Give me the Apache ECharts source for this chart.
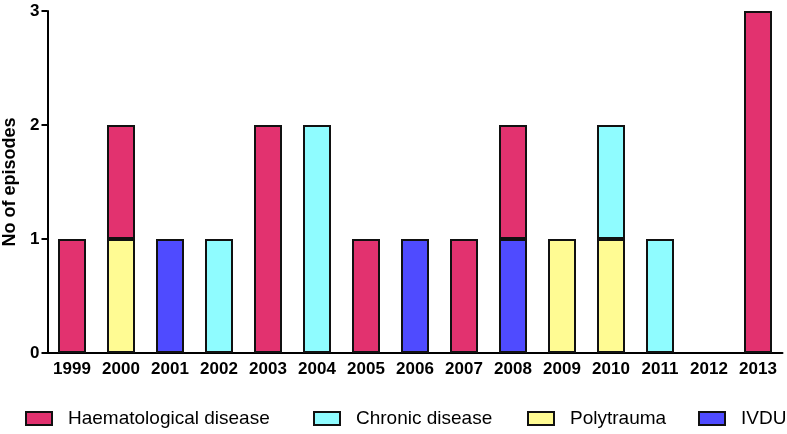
<!DOCTYPE html>
<html>
<head>
<meta charset="utf-8">
<script src="https://cdn.jsdelivr.net/npm/echarts@6/dist/echarts.min.js"></script>
<style>html,body{margin:0;padding:0;background:#fff;}#c{width:787px;height:434px;}</style>
</head>
<body>
<div id="c"></div>
<script>
const years = ['1999','2000','2001','2002','2003','2004','2005','2006','2007','2008','2009','2010','2011','2012','2013'];
const haematological = [1, 1, null, null, 2, null, 1, null, 1, 1, null, null, null, null, 3];
const chronic        = [null, null, null, 1, null, 2, null, null, null, null, null, 1, 1, null, null];
const polytrauma     = [null, 1, null, null, null, null, null, null, null, null, 1, 1, null, null, null];
const ivdu           = [null, null, 1, null, null, null, null, 1, null, 1, null, null, null, null, null];
const yTicks = [0, 1, 2, 3];

const FONT = "'Liberation Sans', Arial, Helvetica, sans-serif";
const colors = {
  'Haematological disease': '#e2326f',
  'Chronic disease': '#8ffcff',
  'Polytrauma': '#fffb93',
  'IVDU': '#4f4bff'
};

function mkSeries(name, data) {
  return {
    name: name, type: 'bar', stack: 'all', data: data, barWidth: 28,
    itemStyle: { color: colors[name], borderColor: '#111', borderWidth: 2 },
    emphasis: { disabled: true }
  };
}
function mkLegend(name, left) {
  return {
    left: left, top: 409, data: [name], itemWidth: 26, itemHeight: 13,
    icon: 'rect', padding: 0,
    itemStyle: { borderColor: '#111', borderWidth: 2 },
    textStyle: { fontFamily: FONT, fontSize: 19, color: '#000', padding: [0, 0, 0, 11] },
    selectedMode: false
  };
}

const chart = echarts.init(document.getElementById('c'));
chart.setOption({
  animation: false,
  textStyle: { fontFamily: FONT },
  grid: { left: 47.5, right: 4.5, top: 11, bottom: 81, containLabel: false, outerBoundsMode: 'none' },
  legend: [
    mkLegend('Haematological disease', 25),
    mkLegend('Chronic disease', 313),
    mkLegend('Polytrauma', 527),
    mkLegend('IVDU', 698)
  ],
  xAxis: {
    type: 'category', data: years,
    axisLine: { lineStyle: { color: '#000', width: 2 } },
    axisTick: { alignWithLabel: true, length: 6, lineStyle: { color: '#000', width: 2 } },
    axisLabel: { interval: 0, fontFamily: FONT, fontSize: 17, fontWeight: 'bold', color: '#000', margin: 8 }
  },
  yAxis: {
    type: 'value', min: yTicks[0], max: yTicks[yTicks.length - 1], interval: 1,
    name: 'No of episodes', nameLocation: 'middle', nameGap: 26,
    nameTextStyle: { fontFamily: FONT, fontSize: 18, fontWeight: 'bold', color: '#000' },
    splitLine: { show: false },
    axisLine: { show: true, lineStyle: { color: '#000', width: 2 } },
    axisTick: { show: true, length: 6, lineStyle: { color: '#000', width: 2 } },
    axisLabel: { fontFamily: FONT, fontSize: 17, fontWeight: 'bold', color: '#000', margin: 8 }
  },
  series: [
    mkSeries('IVDU', ivdu),
    mkSeries('Polytrauma', polytrauma),
    mkSeries('Chronic disease', chronic),
    mkSeries('Haematological disease', haematological)
  ]
});
</script>
</body>
</html>
